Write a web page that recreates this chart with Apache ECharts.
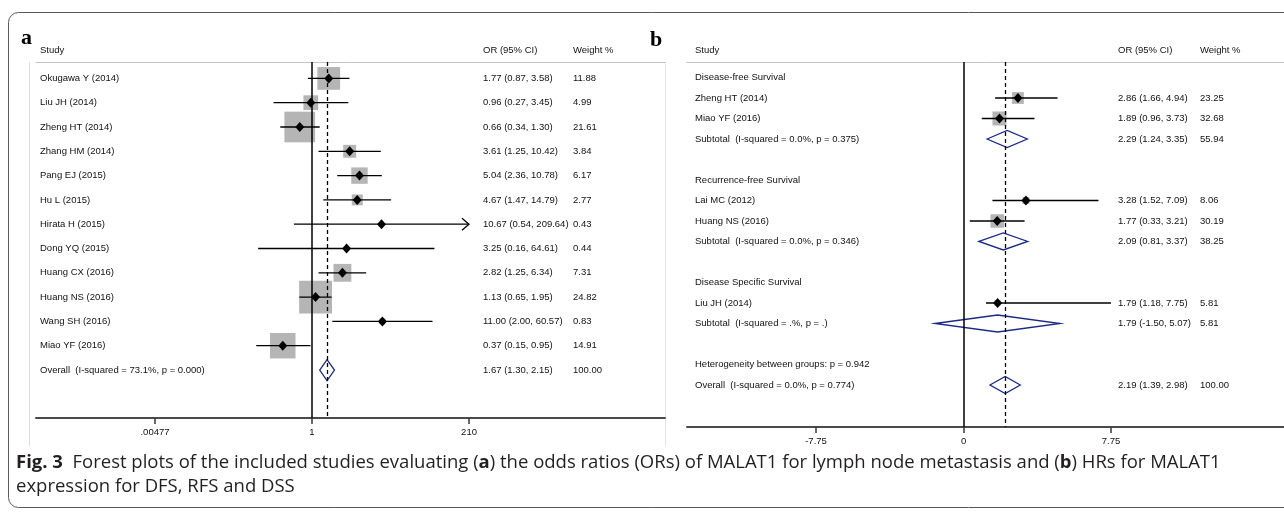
<!DOCTYPE html>
<html>
<head>
<meta charset="utf-8">
<script src="https://cdn.jsdelivr.net/npm/echarts@6/dist/echarts.min.js"></script>
<style>
  html, body { margin: 0; padding: 0; background: #fff; }
  #chart { width: 1284px; height: 513px; }
</style>
</head>
<body>
<div id="chart"></div>
<script>
// ---- Panel a: MALAT1 and lymph node metastasis (odds ratios) ----
const studiesA = ['Okugawa Y (2014)', 'Liu JH (2014)', 'Zheng HT (2014)', 'Zhang HM (2014)',
  'Pang EJ (2015)', 'Hu L (2015)', 'Hirata H (2015)', 'Dong YQ (2015)', 'Huang CX (2016)',
  'Huang NS (2016)', 'Wang SH (2016)', 'Miao YF (2016)'];
const orA     = [1.77, 0.96, 0.66, 3.61, 5.04, 4.67, 10.67, 3.25, 2.82, 1.13, 11.00, 0.37];
const lowA    = [0.87, 0.27, 0.34, 1.25, 2.36, 1.47, 0.54, 0.16, 1.25, 0.65, 2.00, 0.15];
const highA   = [3.58, 3.45, 1.30, 10.42, 10.78, 14.79, 209.64, 64.61, 6.34, 1.95, 60.57, 0.95];
const weightA = [11.88, 4.99, 21.61, 3.84, 6.17, 2.77, 0.43, 0.44, 7.31, 24.82, 0.83, 14.91];
const overallA = ['Overall  (I-squared = 73.1%, p = 0.000)', 1.67, 1.30, 2.15, 100.00];
const ticksA = [0.00477, 1, 210];

// ---- Panel b: MALAT1 and survival (hazard ratios) ----
const groupNamesB = ['Disease-free Survival', 'Recurrence-free Survival', 'Disease Specific Survival'];
const dfsStudies = [['Zheng HT (2014)', 2.86, 1.66, 4.94, 23.25], ['Miao YF (2016)', 1.89, 0.96, 3.73, 32.68]];
const dfsSubtotal = ['Subtotal  (I-squared = 0.0%, p = 0.375)', 2.29, 1.24, 3.35, 55.94];
const rfsStudies = [['Lai MC (2012)', 3.28, 1.52, 7.09, 8.06], ['Huang NS (2016)', 1.77, 0.33, 3.21, 30.19]];
const rfsSubtotal = ['Subtotal  (I-squared = 0.0%, p = 0.346)', 2.09, 0.81, 3.37, 38.25];
const dssStudies = [['Liu JH (2014)', 1.79, 1.18, 7.75, 5.81]];
const dssSubtotal = ['Subtotal  (I-squared = .%, p = .)', 1.79, -1.50, 5.07, 5.81];
const heterogeneityB = 'Heterogeneity between groups: p = 0.942';
const overallB = ['Overall  (I-squared = 0.0%, p = 0.774)', 2.19, 1.39, 2.98, 100.00];
const ticksB = [-7.75, 0, 7.75];

const headers = ['Study', 'OR (95% CI)', 'Weight %'];
const captionLine1 = '{b|Fig. 3}  Forest plots of the included studies evaluating ({b|a}) the odds ratios (ORs) of MALAT1 for lymph node metastasis and ({b|b}) HRs for MALAT1';
const captionLine2 = 'expression for DFS, RFS and DSS';

// ---- rows ----
function row(kind, r) {
  return r ? { kind, label: r[0], est: r[1], low: r[2], high: r[3], w: r[4] } : { kind, label: '' };
}
const rowsA = studiesA.map((s, i) => row('study', [s, orA[i], lowA[i], highA[i], weightA[i]]))
  .concat([row('overall', overallA)]);

const rowsB = [];
[[dfsStudies, dfsSubtotal], [rfsStudies, rfsSubtotal], [dssStudies, dssSubtotal]].forEach((g, gi) => {
  rowsB.push({ kind: 'head', label: groupNamesB[gi] });
  g[0].forEach(s => rowsB.push(row('study', s)));
  rowsB.push(row('sub', g[1]));
  rowsB.push({ kind: 'blank', label: '' });
});
rowsB.push({ kind: 'head', label: heterogeneityB });
rowsB.push(row('overall', overallB));

// ---- styling ----
const FONT = '"Liberation Sans", Arial, Helvetica, sans-serif';
const TXT = '9.5px ' + FONT;
const NAVY = '#1b2a84';
const BOXGRAY = '#b5b5b5';
const CAP_FAMILY = '"Open Sans", "Noto Sans", sans-serif';

// caption size chosen so the first line spans the figure width
const measureCtx = document.createElement('canvas').getContext('2d');
measureCtx.font = '100px ' + CAP_FAMILY;
const plainLine1 = captionLine1.replace(/\{b\|([^}]*)\}/g, '$1');
const capSize = Math.round(100 * 1200 / measureCtx.measureText(plainLine1).width * 10) / 10;

const colsA = { label: 40, ci: 483, weight: 573 };
const colsB = { label: 695, ci: 1118, weight: 1200 };

function fmtCI(r) {
  return r.est.toFixed(2) + ' (' + r.low.toFixed(2) + ', ' + r.high.toFixed(2) + ')';
}

function makeRender(rows, cols, boxScale, diamondHalf, arrowAt) {
  return function (params, api) {
    const i = params.dataIndex;
    const r = rows[i];
    const yPix = api.coord([r.est > 0 ? r.est : 1, i])[1];
    const kids = [];
    const text = (x, s) => ({
      type: 'text', x: x, y: yPix,
      style: { text: s, fill: '#111', font: TXT, verticalAlign: 'middle', align: 'left' }
    });
    if (r.kind === 'study' || r.kind === 'sub' || r.kind === 'overall') {
      const c = api.coord([r.est, i]);
      const l = api.coord([r.low, i]);
      const h = api.coord([r.high, i]);
      if (r.kind === 'study') {
        const s = boxScale * Math.sqrt(r.w);
        kids.push({ type: 'rect', shape: { x: c[0] - s / 2, y: c[1] - s / 2, width: s, height: s },
          style: { fill: BOXGRAY } });
        kids.push({ type: 'line', shape: { x1: l[0], y1: l[1], x2: h[0], y2: h[1] },
          style: { stroke: '#000', lineWidth: 1.3 } });
        if (arrowAt !== undefined && r.high >= arrowAt) {
          kids.push({ type: 'polyline', shape: { points: [[h[0] - 7, h[1] - 6], [h[0], h[1]], [h[0] - 7, h[1] + 6]] },
            style: { stroke: '#000', lineWidth: 1.3, fill: null } });
        }
        kids.push({ type: 'polygon', shape: { points: [[c[0] - 4.5, c[1]], [c[0], c[1] - 5], [c[0] + 4.5, c[1]], [c[0], c[1] + 5]] },
          style: { fill: '#000' } });
      } else {
        kids.push({ type: 'polygon', shape: { points: [[l[0], l[1]], [c[0], c[1] - diamondHalf], [h[0], h[1]], [c[0], c[1] + diamondHalf]] },
          style: { fill: null, stroke: NAVY, lineWidth: 1.3 } });
      }
      kids.push(text(cols.ci, fmtCI(r)));
      kids.push(text(cols.weight, r.w.toFixed(2)));
    }
    if (r.label) kids.push(text(cols.label, r.label));
    return { type: 'group', children: kids };
  };
}

function refLines(nullValue, overallValue) {
  return {
    symbol: 'none', silent: true, label: { show: false },
    data: [
      { xAxis: nullValue, lineStyle: { type: 'solid', color: '#000', width: 1.5 } },
      { xAxis: overallValue, lineStyle: { type: [4, 3], color: '#000', width: 1.3 } }
    ]
  };
}

const bottomAxisLine = { show: true, onZero: false, lineStyle: { color: '#4a4a4a', width: 2 } };
const topRule = { show: true, onZero: false, lineStyle: { color: '#c4c4c4', width: 1 } };
const tickStyle = { show: true, length: 6, lineStyle: { color: '#3a3a3a', width: 1.5 } };

const chart = echarts.init(document.getElementById('chart'), null, { renderer: 'canvas' });

const capRich = { b: { fontWeight: 'bold', fontSize: capSize, fontFamily: CAP_FAMILY, fill: '#231f20' } };
const graphics = [
  { type: 'rect', shape: { x: 8.5, y: 12.5, width: 1300, height: 495, r: 10 },
    style: { fill: 'none', stroke: '#5a5a5a', lineWidth: 1 } },
  { type: 'line', shape: { x1: 29.5, y1: 62, x2: 29.5, y2: 446 }, style: { stroke: '#dcdcdc', lineWidth: 1 } },
  { type: 'line', shape: { x1: 665.5, y1: 62, x2: 665.5, y2: 446 }, style: { stroke: '#e4e4e4', lineWidth: 1 } },
  { type: 'text', x: 21, y: 38, style: { text: 'a', font: 'bold 22px "Liberation Serif", "DejaVu Serif", serif', fill: '#000', verticalAlign: 'middle' } },
  { type: 'text', x: 650, y: 40, style: { text: 'b', font: 'bold 22px "Liberation Serif", "DejaVu Serif", serif', fill: '#000', verticalAlign: 'middle' } },
  { type: 'text', x: 16, y: 463, style: {
      text: captionLine1, fontSize: capSize, fontFamily: CAP_FAMILY, fill: '#231f20',
      verticalAlign: 'middle', rich: capRich } },
  { type: 'text', x: 16, y: 487, style: {
      text: captionLine2, fontSize: capSize, fontFamily: CAP_FAMILY, fill: '#231f20',
      verticalAlign: 'middle' } }
];
[colsA, colsB].forEach(c => {
  [c.label, c.ci, c.weight].forEach((x, k) => graphics.push({
    type: 'text', x: x, y: 50, style: { text: headers[k], font: TXT, fill: '#111', verticalAlign: 'middle' }
  }));
});

chart.setOption({
  animation: false,
  backgroundColor: '#fff',
  grid: [
    { left: 36, top: 62, width: 629, height: 356, outerBoundsMode: 'none' },
    { left: 687, top: 62, width: 597, height: 365, outerBoundsMode: 'none' }
  ],
  xAxis: [
    {
      type: 'log', logBase: Math.E, gridIndex: 0, position: 'bottom', min: 8.3e-5, max: 1.66e5,
      axisLine: bottomAxisLine, splitLine: { show: false },
      axisTick: Object.assign({ customValues: ticksA }, tickStyle),
      axisLabel: { customValues: ticksA, margin: 9, color: '#111', fontSize: 9.5, fontFamily: FONT,
        formatter: v => String(v).replace(/^0\./, '.') }
    },
    { type: 'value', gridIndex: 0, position: 'top', min: 0, max: 1, show: true,
      axisLine: topRule, axisTick: { show: false }, axisLabel: { show: false }, splitLine: { show: false } },
    {
      type: 'value', gridIndex: 1, position: 'bottom', min: -14.53, max: 16.84,
      axisLine: bottomAxisLine, splitLine: { show: false },
      axisTick: Object.assign({ customValues: ticksB }, tickStyle),
      axisLabel: { customValues: ticksB, margin: 9, color: '#111', fontSize: 9.5, fontFamily: FONT }
    },
    { type: 'value', gridIndex: 1, position: 'top', min: 0, max: 1, show: true,
      axisLine: topRule, axisTick: { show: false }, axisLabel: { show: false }, splitLine: { show: false } }
  ],
  yAxis: [
    { type: 'value', gridIndex: 0, inverse: true, min: -0.675, max: 13.975, show: false },
    { type: 'value', gridIndex: 1, inverse: true, min: -0.756, max: 17.05, show: false }
  ],
  series: [
    { type: 'line', xAxisIndex: 0, yAxisIndex: 0, data: [], z: 1, markLine: refLines(1, overallA[1]) },
    { type: 'custom', xAxisIndex: 0, yAxisIndex: 0, z: 3, clip: false,
      data: rowsA.map((r, i) => [r.est, i]),
      renderItem: makeRender(rowsA, colsA, 6.6, 10.5, ticksA[2] - 1) },
    { type: 'line', xAxisIndex: 2, yAxisIndex: 1, data: [], z: 1, markLine: refLines(0, overallB[1]) },
    { type: 'custom', xAxisIndex: 2, yAxisIndex: 1, z: 3, clip: false,
      data: rowsB.map((r, i) => [r.est !== undefined ? r.est : 0, i]),
      renderItem: makeRender(rowsB, colsB, 2.45, 8.5) }
  ],
  graphic: graphics
});
</script>
</body>
</html>
